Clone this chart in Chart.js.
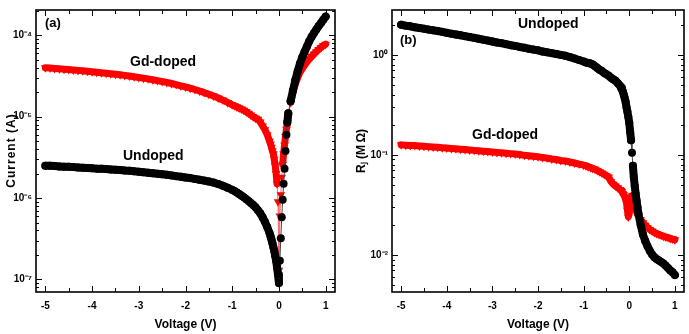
<!DOCTYPE html>
<html>
<head>
<meta charset="utf-8">
<script src="https://cdn.jsdelivr.net/npm/chart.js"></script>
<style>
  html, body { margin: 0; padding: 0; background: #fff; }
  #wrap { position: relative; width: 689px; height: 334px; }
  canvas { position: absolute; top: 0; }
  #panelA { left: 0; }
  #panelB { left: 345px; }
</style>
</head>
<body>
<div id="wrap">
  <canvas id="panelA" width="345" height="334"></canvas>
  <canvas id="panelB" width="344" height="334"></canvas>
</div>
<script>
// bias voltage (V)
const voltage = [
  -5, -4.9, -4.8, -4.7, -4.6, -4.5, -4.4, -4.3, -4.2, -4.1,
  -4, -3.9, -3.8, -3.7, -3.6, -3.5, -3.4, -3.3, -3.2, -3.1,
  -3, -2.9, -2.8, -2.7, -2.6, -2.5, -2.4, -2.3, -2.2, -2.1,
  -2, -1.9, -1.8, -1.7, -1.6, -1.5, -1.4, -1.3, -1.2, -1.1,
  -1, -0.95, -0.9, -0.85, -0.8, -0.75, -0.7, -0.65, -0.6, -0.55, -0.5, -0.45, -0.4, -0.35, -0.3, -0.25,
  -0.2, -0.18, -0.16, -0.14, -0.12, -0.1, -0.08, -0.06, -0.04, -0.02, 0, 0.02, 0.04, 0.06, 0.08, 0.1, 0.12, 0.14, 0.16, 0.18,
  0.2, 0.25, 0.3, 0.35, 0.4, 0.45, 0.5, 0.55, 0.6, 0.65, 0.7, 0.75, 0.8, 0.85, 0.9, 0.95, 1
];

// |I| in A, panel (a)
const undopedCurrent = [
  2.50e-6, 2.49e-6, 2.47e-6, 2.45e-6, 2.43e-6, 2.42e-6, 2.40e-6, 2.38e-6, 2.36e-6, 2.34e-6,
  2.32e-6, 2.30e-6, 2.29e-6, 2.27e-6, 2.25e-6, 2.23e-6, 2.21e-6, 2.18e-6, 2.16e-6, 2.13e-6,
  2.11e-6, 2.08e-6, 2.05e-6, 2.02e-6, 1.99e-6, 1.96e-6, 1.93e-6, 1.90e-6, 1.86e-6, 1.83e-6,
  1.79e-6, 1.76e-6, 1.72e-6, 1.68e-6, 1.64e-6, 1.60e-6, 1.55e-6, 1.49e-6, 1.42e-6, 1.34e-6,
  1.26e-6, 1.22e-6, 1.17e-6, 1.12e-6, 1.07e-6, 1.02e-6, 9.7e-7, 9.2e-7, 8.7e-7, 8.2e-7, 7.7e-7, 7.1e-7, 6.5e-7, 5.8e-7, 5.1e-7, 4.4e-7,
  3.7e-7, 3.4e-7, 3.1e-7, 2.8e-7, 2.5e-7, 2.25e-7, 1.95e-7, 1.7e-7, 1.4e-7, 1.15e-7, 9e-8, 1.7e-7, 3.2e-7, 5.8e-7, 9.5e-7, 1.5e-6, 2.3e-6, 3.8e-6, 6e-6, 8.5e-6,
  1.1e-5, 1.55e-5, 2.1e-5, 2.8e-5, 3.6e-5, 4.5e-5, 5.4e-5, 6.3e-5, 7.3e-5, 8.5e-5, 9.6e-5, 1.07e-4, 1.18e-4, 1.3e-4, 1.42e-4, 1.56e-4, 1.7e-4
];
const gdCurrent = [
  4.00e-5, 3.96e-5, 3.92e-5, 3.88e-5, 3.84e-5, 3.80e-5, 3.76e-5, 3.71e-5, 3.67e-5, 3.62e-5,
  3.58e-5, 3.53e-5, 3.48e-5, 3.43e-5, 3.38e-5, 3.33e-5, 3.28e-5, 3.22e-5, 3.16e-5, 3.10e-5,
  3.04e-5, 2.98e-5, 2.92e-5, 2.85e-5, 2.78e-5, 2.71e-5, 2.64e-5, 2.56e-5, 2.48e-5, 2.40e-5,
  2.32e-5, 2.24e-5, 2.16e-5, 2.07e-5, 1.98e-5, 1.89e-5, 1.80e-5, 1.70e-5, 1.60e-5, 1.50e-5,
  1.40e-5, 1.36e-5, 1.32e-5, 1.28e-5, 1.24e-5, 1.20e-5, 1.15e-5, 1.10e-5, 1.05e-5, 1.00e-5, 9.6e-6, 9.3e-6, 8.6e-6, 7.7e-6, 6.9e-6, 6.0e-6,
  5.0e-6, 4.6e-6, 4.2e-6, 3.8e-6, 3.5e-6, 3.0e-6, 2.5e-6, 2.0e-6, 1.5e-6, 9e-7, 1.3e-7, 6e-7, 1.1e-6, 1.8e-6, 2.6e-6, 3.5e-6, 4.5e-6, 5.7e-6, 7.0e-6, 8.5e-6,
  1.0e-5, 1.5e-5, 2.0e-5, 2.5e-5, 3.0e-5, 3.5e-5, 3.9e-5, 4.3e-5, 4.7e-5, 5.1e-5, 5.5e-5, 5.9e-5, 6.3e-5, 6.7e-5, 7.1e-5, 7.5e-5, 7.8e-5
];

// junction resistance in MOhm, panel (b)
const undopedRj = [
  2.00, 1.96, 1.93, 1.89, 1.86, 1.83, 1.79, 1.76, 1.73, 1.70,
  1.66, 1.63, 1.60, 1.57, 1.54, 1.51, 1.48, 1.45, 1.42, 1.39,
  1.36, 1.33, 1.31, 1.28, 1.25, 1.23, 1.20, 1.18, 1.15, 1.13,
  1.11, 1.08, 1.06, 1.04, 1.02, 1.00, 0.98, 0.95, 0.92, 0.89,
  0.86, 0.84, 0.83, 0.82, 0.80, 0.77, 0.74, 0.71, 0.69, 0.66, 0.64, 0.62, 0.59, 0.57, 0.55, 0.52,
  0.49, 0.47, 0.45, 0.43, 0.40, 0.37, 0.34, 0.30, 0.27, 0.24, 0.21, 0.17, 0.14, 0.105, 0.078, 0.06, 0.049, 0.041, 0.035, 0.030,
  0.026, 0.020, 0.016, 0.0138, 0.0122, 0.011, 0.0101, 0.0095, 0.0091, 0.0088, 0.0085, 0.0082, 0.0078, 0.0074, 0.0070, 0.0067, 0.0063
];
const gdRj = [
  0.126, 0.125, 0.124, 0.124, 0.123, 0.122, 0.121, 0.120, 0.119, 0.118,
  0.117, 0.116, 0.115, 0.114, 0.113, 0.112, 0.111, 0.110, 0.109, 0.108,
  0.107, 0.106, 0.105, 0.104, 0.103, 0.102, 0.101, 0.099, 0.098, 0.097,
  0.096, 0.094, 0.093, 0.091, 0.090, 0.088, 0.087, 0.085, 0.083, 0.081,
  0.079, 0.078, 0.076, 0.075, 0.073, 0.072, 0.070, 0.068, 0.066, 0.064, 0.062, 0.060, 0.054, 0.051, 0.049, 0.047,
  0.045, 0.044, 0.043, 0.041, 0.040, 0.038, 0.036, 0.033, 0.028, 0.024, 0.026, 0.032, 0.037, 0.039, 0.037, 0.034, 0.031, 0.029, 0.027, 0.0255,
  0.0245, 0.0225, 0.021, 0.0198, 0.0188, 0.018, 0.0173, 0.0168, 0.0164, 0.016, 0.0157, 0.0154, 0.0151, 0.0149, 0.0146, 0.0144, 0.0142
];

const voltageTicks = [-5, -4, -3, -2, -1, 0, 1];
const voltageMinorTicks = [-4.5, -3.5, -2.5, -1.5, -0.5, 0.5];
const currentTicks = [1e-7, 1e-6, 1e-5, 1e-4];
const rjTicks = [1e-2, 1e-1, 1e0];

const FONT = "'Liberation Sans Narrow', 'Arial Narrow', 'Liberation Sans', Arial, sans-serif";
Chart.defaults.font.family = FONT;
Chart.defaults.color = '#000';

const SUP = { '-': '\u207B', '0': '\u2070', '1': '\u00B9', '2': '\u00B2', '3': '\u00B3',
  '4': '\u2074', '5': '\u2075', '6': '\u2076', '7': '\u2077', '8': '\u2078', '9': '\u2079' };
function powLabel(v) {
  const e = String(Math.round(Math.log10(v)));
  return '10' + e.split('').map(c => SUP[c]).join('');
}

// box around the plot with inward ticks on all four sides
const frame = {
  id: 'frame',
  afterDraw(chart) {
    const { ctx, chartArea: a, scales: { x, y } } = chart;
    ctx.save();
    ctx.strokeStyle = '#000';
    ctx.lineWidth = 1;
    ctx.beginPath();
    const tickX = (v, len) => {
      const px = Math.round(x.getPixelForValue(v)) + 0.5;
      ctx.moveTo(px, a.bottom); ctx.lineTo(px, a.bottom - len);
      ctx.moveTo(px, a.top); ctx.lineTo(px, a.top + len);
    };
    const tickY = (v, len) => {
      const py = Math.round(y.getPixelForValue(v)) + 0.5;
      if (py < a.top || py > a.bottom) return;
      ctx.moveTo(a.left, py); ctx.lineTo(a.left + len, py);
      ctx.moveTo(a.right, py); ctx.lineTo(a.right - len, py);
    };
    voltageTicks.forEach(v => tickX(v, 6));
    voltageMinorTicks.forEach(v => tickX(v, 4));
    const lo = Math.floor(Math.log10(y.min)), hi = Math.ceil(Math.log10(y.max));
    for (let k = lo; k <= hi; k++) {
      tickY(Math.pow(10, k), 6);
      for (let m = 2; m <= 9; m++) tickY(m * Math.pow(10, k), 3);
    }
    ctx.stroke();
    ctx.lineWidth = 1.6;
    ctx.strokeRect(a.left, a.top, a.right - a.left, a.bottom - a.top);
    ctx.restore();
  }
};

const notes = {
  id: 'notes',
  afterDraw(chart, args, opts) {
    const { ctx } = chart;
    ctx.save();
    ctx.fillStyle = '#000';
    ctx.textBaseline = 'middle';
    ctx.textAlign = 'left';
    (opts.items || []).forEach(n => {
      ctx.font = 'bold ' + n.size + 'px ' + FONT;
      ctx.fillText(n.text, n.x, n.y);
    });
    ctx.restore();
  }
};

// dense runs of markers merge into a solid band; sparse steps keep a thin line
const near = c => Math.hypot(c.p1.x - c.p0.x, c.p1.y - c.p0.y) < 12;

function panel(id, cfg) {
  return new Chart(document.getElementById(id), {
    type: 'line',
    data: {
      datasets: cfg.series.map(s => ({
        label: s.label,
        data: voltage.map((v, i) => ({ x: v, y: s.values[i] })),
        borderColor: s.line,
        borderWidth: 1,
        borderCapStyle: 'round',
        borderJoinStyle: 'round',
        segment: {
          borderWidth: c => near(c) ? s.band : 1,
          borderColor: c => near(c) ? s.color : s.line
        },
        pointBackgroundColor: s.color,
        pointBorderColor: s.color,
        pointBorderWidth: 0,
        pointStyle: s.marker,
        pointRotation: s.rotation,
        pointRadius: s.radius,
        clip: 5
      }))
    },
    options: {
      responsive: false,
      animation: false,
      devicePixelRatio: 1,
      layout: { padding: { top: 3, right: cfg.padRight, left: 0, bottom: 0 } },
      plugins: {
        legend: { display: false },
        tooltip: { enabled: false },
        notes: { items: cfg.notes }
      },
      scales: {
        x: {
          type: 'linear', min: -5.2, max: 1.2,
          afterBuildTicks: s => { s.ticks = voltageTicks.map(v => ({ value: v })); },
          afterFit: s => { s.height = 42; },
          grid: { display: false, drawTicks: false },
          border: { display: false },
          ticks: { padding: 8, maxRotation: 0, font: { size: 10, weight: 'bold' }, callback: v => String(v) },
          title: { display: true, text: 'Voltage (V)', font: { size: 12, weight: 'bold' }, padding: { top: 0, bottom: 2 } }
        },
        y: {
          type: 'logarithmic', min: cfg.yMin, max: cfg.yMax,
          afterBuildTicks: s => { s.ticks = cfg.yTicks.map(v => ({ value: v })); },
          afterFit: s => { s.width = cfg.yWidth; },
          grid: { display: false, drawTicks: false },
          border: { display: false },
          ticks: { padding: 4, font: { size: 10, weight: 'bold' }, callback: v => powLabel(v) },
          title: { display: true, text: cfg.yTitle, font: { size: 12, weight: 'bold' }, padding: { top: cfg.titlePad, bottom: 0 } }
        }
      }
    },
    plugins: [frame, notes]
  });
}

const spaced = t => t.split('').join('\u200A');

panel('panelA', {
  yMin: 7e-8, yMax: 2.05e-4, yTicks: currentTicks, yWidth: 36, padRight: 10, titlePad: 4,
  yTitle: spaced('Current (A)'),
  series: [
    { label: 'Undoped', values: undopedCurrent, color: '#000', line: '#444', marker: 'circle', rotation: 0, radius: 4, band: 8 },
    { label: 'Gd-doped', values: gdCurrent, color: '#ff0000', line: '#ff6a6a', marker: 'triangle', rotation: 180, radius: 5, band: 7 }
  ],
  notes: [
    { text: '(a)', x: 45, y: 23, size: 13 },
    { text: 'Gd-doped', x: 130, y: 62, size: 14 },
    { text: 'Undoped', x: 123, y: 156, size: 14 }
  ]
});

panel('panelB', {
  yMin: 4.26e-3, yMax: 2.81, yTicks: rjTicks, yWidth: 47, padRight: 1, titlePad: 9,
  yTitle: 'R\u2C7C (M\u2009\u03A9)',
  series: [
    { label: 'Undoped', values: undopedRj, color: '#000', line: '#444', marker: 'circle', rotation: 0, radius: 4, band: 8 },
    { label: 'Gd-doped', values: gdRj, color: '#ff0000', line: '#ff6a6a', marker: 'triangle', rotation: 180, radius: 5, band: 7 }
  ],
  notes: [
    { text: '(b)', x: 55, y: 40, size: 13 },
    { text: 'Undoped', x: 173, y: 24, size: 14 },
    { text: 'Gd-doped', x: 127, y: 135, size: 14 }
  ]
});
</script>
</body>
</html>
